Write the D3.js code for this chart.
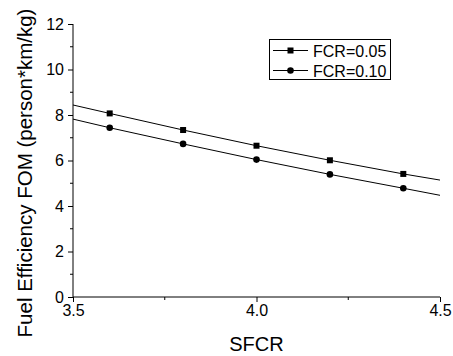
<!DOCTYPE html>
<html lang="en">
<head>
<meta charset="utf-8">
<title>FOM vs SFCR</title>
<script src="https://cdn.jsdelivr.net/npm/d3@7"></script>
<style>
  body { margin: 0; background: #fff; }
  text { font-family: Arial, "Liberation Sans", sans-serif; fill: #000; }
</style>
</head>
<body>
<div id="chart"></div>
<script>
// data
var sfcr = [3.6, 3.8, 4.0, 4.2, 4.4];
var fom005 = [8.07, 7.34, 6.65, 6.01, 5.41];
var fom010 = [7.44, 6.73, 6.04, 5.39, 4.78];
// line ends (the drawn lines run across the whole x range)
var lineEnds = [3.5, 4.5];
var ends005 = [8.44, 5.14];
var ends010 = [7.82, 4.47];
var xTicks = [3.5, 4.0, 4.5];
var yTicks = [0, 2, 4, 6, 8, 10, 12];

var width = 453, height = 356;
var margin = {top: 24, right: 13, bottom: 59, left: 73};

var svg = d3.select("#chart").append("svg")
    .attr("width", width)
    .attr("height", height);

var x = d3.scaleLinear().domain([3.5, 4.5]).range([margin.left, width - margin.right]);
var y = d3.scaleLinear().domain([0, 12]).range([height - margin.bottom, margin.top]);

// axes
var xAxis = svg.append("g")
    .attr("transform", "translate(0," + y(0) + ")")
    .call(d3.axisBottom(x).tickValues(xTicks).tickFormat(d3.format(".1f")).tickSize(5).tickPadding(3));
xAxis.append("g").selectAll("line")
    .data([3.75, 4.25])
    .enter().append("line")
    .attr("x1", d => x(d)).attr("x2", d => x(d))
    .attr("y1", 0).attr("y2", 3)
    .attr("stroke", "#000");

var yAxis = svg.append("g")
    .attr("transform", "translate(" + x(3.5) + ",0)")
    .call(d3.axisLeft(y).tickValues(yTicks).tickSize(5).tickPadding(4));
yAxis.append("g").selectAll("line")
    .data([1, 3, 5, 7, 9, 11])
    .enter().append("line")
    .attr("y1", d => y(d)).attr("y2", d => y(d))
    .attr("x1", 0).attr("x2", -3)
    .attr("stroke", "#000");

svg.selectAll(".tick text").style("font-size", "16px").style("font-family", "Arial, 'Liberation Sans', sans-serif");
svg.selectAll(".domain").attr("stroke", "#000");
svg.selectAll(".tick line").attr("stroke", "#000");
xAxis.select(".domain").attr("d", "M" + x(3.5) + ",0H" + x(4.5));
yAxis.select(".domain").attr("d", "M0," + y(0) + "V" + y(12));

// axis titles
svg.append("text")
    .attr("x", x(4.0))
    .attr("y", 351)
    .attr("text-anchor", "middle")
    .style("font-size", "20px")
    .text("SFCR");

svg.append("text")
    .attr("transform", "translate(32," + 173 + ") rotate(-90)")
    .attr("text-anchor", "middle")
    .style("font-size", "20.5px")
    .text("Fuel Efficiency FOM (person*km/kg)");

// lines
var line = d3.line().x(d => x(d[0])).y(d => y(d[1]));

function seriesPts(vals, ends) {
  var pts = sfcr.map((s, i) => [s, vals[i]]);
  return [[lineEnds[0], ends[0]]].concat(pts, [[lineEnds[1], ends[1]]]);
}

svg.append("path")
    .datum(seriesPts(fom005, ends005))
    .attr("d", line)
    .attr("fill", "none")
    .attr("stroke", "#000")
    .attr("stroke-width", 1);

svg.append("path")
    .datum(seriesPts(fom010, ends010))
    .attr("d", line)
    .attr("fill", "none")
    .attr("stroke", "#000")
    .attr("stroke-width", 1);

// markers
svg.append("g").selectAll("rect")
    .data(sfcr)
    .enter().append("rect")
    .attr("x", (d, i) => x(d) - 3)
    .attr("y", (d, i) => y(fom005[i]) - 3)
    .attr("width", 6).attr("height", 6)
    .attr("fill", "#000");

svg.append("g").selectAll("circle")
    .data(sfcr)
    .enter().append("circle")
    .attr("cx", d => x(d))
    .attr("cy", (d, i) => y(fom010[i]))
    .attr("r", 3.3)
    .attr("fill", "#000");

// legend
var legend = svg.append("g");
legend.append("rect")
    .attr("x", 269.5).attr("y", 39.5)
    .attr("width", 121).attr("height", 40)
    .attr("fill", "none")
    .attr("stroke", "#000");

var legRows = [
  {label: "FCR=0.05", shape: "square", cy: 50.5},
  {label: "FCR=0.10", shape: "circle", cy: 70.5}
];
legRows.forEach(function(r) {
  legend.append("line")
      .attr("x1", 273).attr("x2", 308)
      .attr("y1", r.cy).attr("y2", r.cy)
      .attr("stroke", "#000");
  if (r.shape == "square") {
    legend.append("rect")
        .attr("x", 287.5).attr("y", r.cy - 3)
        .attr("width", 6).attr("height", 6)
        .attr("fill", "#000");
  } else {
    legend.append("circle")
        .attr("cx", 290.5).attr("cy", r.cy)
        .attr("r", 3.3).attr("fill", "#000");
  }
  legend.append("text")
      .attr("x", 313)
      .attr("y", r.cy + 6)
      .style("font-size", "16px")
      .text(r.label);
});
</script>
</body>
</html>
